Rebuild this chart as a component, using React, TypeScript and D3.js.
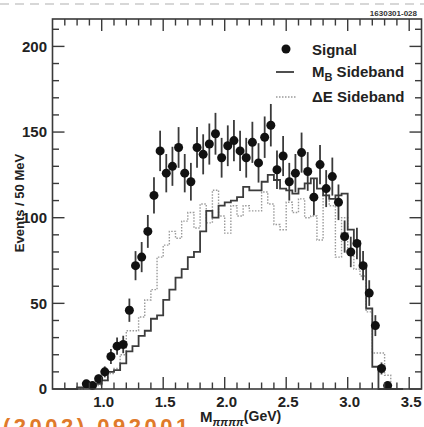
import React from "react";
import * as d3 from "d3";

// ---- data ----
const signalMass = [0.875,0.925,0.975,1.025,1.075,1.125,1.175,1.225,1.275,1.325,1.375,1.425,1.475,1.525,1.575,1.625,1.675,1.725,1.775,1.825,1.875,1.925,1.975,2.025,2.075,2.125,2.175,2.225,2.275,2.325,2.375,2.425,2.475,2.525,2.575,2.625,2.675,2.725,2.775,2.825,2.875,2.925,2.975,3.025,3.075,3.125,3.175,3.225,3.275,3.325];
const signalEvents = [3,2,6,10,19,25,26,46,72,77,92,113,139,126,130,141,126,121,141,137,143,149,135,142,145,139,135,144,132,147,154,128,136,121,126,138,127,112,131,117,124,109,89,80,85,72,56,37,12,2];
const signalErrors = [1.7,1.4,2.4,3.2,4.4,5,5.1,6.8,8.5,8.8,9.6,10.6,11.8,11.2,11.4,11.9,11.2,11,11.9,11.7,12,12.2,11.6,11.9,12,11.8,11.6,12,11.5,12.1,12.4,11.3,11.7,11,11.2,11.7,11.3,10.6,11.4,10.8,11.1,10.4,9.4,8.9,9.2,8.5,7.5,6.1,3.5,1.4];

// histogram bin lower edges (GeV), 50 MeV bins
const binEdges = [0.70,0.75,0.80,0.85,0.90,0.95,1.00,1.05,1.10,1.15,1.20,1.25,1.30,1.35,1.40,1.45,1.50,1.55,1.60,1.65,1.70,1.75,1.80,1.85,1.90,1.95,2.00,2.05,2.10,2.15,2.20,2.25,2.30,2.35,2.40,2.45,2.50,2.55,2.60,2.65,2.70,2.75,2.80,2.85,2.90,2.95,3.00,3.05,3.10,3.15,3.20,3.25,3.30,3.35,3.40];
const mbSideband = [0,0,1,1,2,3,5,10,11,15,22,25,31,34,41,43,52,58,65,70,77,80,92,104,100,107,109,110,112,118,116,116,121,125,122,117,116,114,117,120,123,117,113,111,113,114,93,86,73,47,13,0,0,0,0];
const deSideband = [0,0,0,1,1,2,5,9,12,20,34,34,42,52,58,77,84,92,88,98,103,94,108,97,116,101,91,107,101,107,104,104,115,108,96,93,109,103,111,100,101,87,113,107,77,100,78,70,66,45,21,21,8,0,0];
const binWidth = 0.05;

const xTicksMajor = [1.0, 1.5, 2.0, 2.5, 3.0, 3.5];
const xTickLabels = ["1.0", "1.5", "2.0", "2.5", "3.0", "3.5"];
const yTicksMajor = [0, 50, 100, 150, 200];
const yTickLabels = ["0", "50", "100", "150", "200"];

const FONT = "'Liberation Sans', Arial, Helvetica, sans-serif";

export default function App() {
  const W = 424, H = 427;
  const left = 52.5, right = 421.5, top = 19, bottom = 389;
  const x = d3.scaleLinear().domain([0.6, 3.6]).range([left, right]);
  const y = d3.scaleLinear().domain([0, 216]).range([bottom, top]);

  const histPath = (vals: number[]) => {
    const pts: [number, number][] = binEdges.map((e, i) => [e, vals[i]]);
    pts.push([binEdges[binEdges.length - 1] + binWidth, vals[vals.length - 1]]);
    return d3.line<[number, number]>()
      .x(d => x(d[0]))
      .y(d => y(d[1]))
      .curve(d3.curveStepAfter)(pts) || "";
  };

  const xMinor = d3.range(7, 36).map(v => v / 10);
  const yMinor = d3.range(0, 211, 10);
  const frameColor = "#3a3a3a";

  return (
    <svg width={W} height={H} style={{ position: "absolute", left: 0, top: 0, background: "#fff" }}>
      <rect x={0} y={0} width={W} height={H} fill="#fff" />
      {/* dashed line at top */}
      <line x1={0} x2={W} y1={4} y2={4} stroke="#b0b0b0" strokeWidth={1.2} strokeDasharray="9,6" />
      <text x={417} y={16} textAnchor="end" fontFamily={FONT} fontWeight="bold" fontSize={8} fill="#333">1630301-028</text>

      {/* histograms */}
      <path d={histPath(deSideband)} fill="none" stroke="#9a9a9a" strokeWidth={1.4} strokeDasharray="1.5,1.5" />
      <path d={histPath(mbSideband)} fill="none" stroke="#3c3c3c" strokeWidth={1.8} />

      {/* signal points */}
      {signalMass.map((m, i) => (
        <g key={i}>
          <line x1={x(m)} x2={x(m)} y1={y(Math.max(0, signalEvents[i] - signalErrors[i]))} y2={y(signalEvents[i] + signalErrors[i])} stroke="#3a3a3a" strokeWidth={1.8} />
          <circle cx={x(m)} cy={y(signalEvents[i])} r={4.5} fill="#111" />
        </g>
      ))}

      {/* frame */}
      <rect x={left} y={top} width={right - left} height={bottom - top} fill="none" stroke={frameColor} strokeWidth={1.6} />
      {xMinor.map((v, i) => {
        const major = Math.abs(v * 2 - Math.round(v * 2)) < 1e-6;
        const len = major ? 12 : 6.5;
        return (
          <g key={"xt" + i}>
            <line x1={x(v)} x2={x(v)} y1={bottom} y2={bottom - len} stroke={frameColor} strokeWidth={1.4} />
            <line x1={x(v)} x2={x(v)} y1={top} y2={top + len} stroke={frameColor} strokeWidth={1.4} />
          </g>
        );
      })}
      {yMinor.map((v, i) => {
        const major = v % 50 === 0;
        const len = major ? 12 : 6.5;
        return (
          <g key={"yt" + i}>
            <line x1={left} x2={left + len} y1={y(v)} y2={y(v)} stroke={frameColor} strokeWidth={1.4} />
            <line x1={right} x2={right - len} y1={y(v)} y2={y(v)} stroke={frameColor} strokeWidth={1.4} />
          </g>
        );
      })}
      {xTicksMajor.map((v, i) => (
        <text key={"xl" + i} x={x(v) + 2} y={407} textAnchor="middle" fontFamily={FONT} fontWeight="bold" fontSize={15} fill="#222">{xTickLabels[i]}</text>
      ))}
      {yTicksMajor.map((v, i) => (
        <text key={"yl" + i} x={47} y={y(v)} dy="0.36em" textAnchor="end" fontFamily={FONT} fontWeight="bold" fontSize={15} fill="#222">{yTickLabels[i]}</text>
      ))}

      {/* axis titles */}
      <text transform="translate(24,203) rotate(-90)" textAnchor="middle" fontFamily={FONT} fontWeight="bold" fontSize={13} fill="#222">Events / 50 MeV</text>
      <text x={200} y={422} fontFamily={FONT} fontWeight="bold" fontSize={15} fill="#222">
        M<tspan fontSize={11} fontStyle="italic" dy={4}>ππππ</tspan><tspan fontSize={14} dy={-5}>(GeV)</tspan>
      </text>

      {/* legend */}
      <circle cx={286} cy={49} r={4.5} fill="#111" />
      <text x={312} y={54.5} fontFamily={FONT} fontWeight="bold" fontSize={15} fill="#222">Signal</text>
      <line x1={276} x2={294} y1={72} y2={72} stroke="#3c3c3c" strokeWidth={1.8} />
      <text x={312} y={77} fontFamily={FONT} fontWeight="bold" fontSize={15} fill="#222">
        M<tspan fontSize={11} dy={4}>B</tspan><tspan dy={-4}> Sideband</tspan>
      </text>
      <line x1={276} x2={296} y1={97} y2={97} stroke="#9a9a9a" strokeWidth={1.4} strokeDasharray="1.5,1.5" />
      <text x={312} y={102} fontFamily={FONT} fontWeight="bold" fontSize={15} fill="#222">ΔE Sideband</text>

      {/* page text clipped at the bottom edge, as in the reference */}
      <text x={3} y={434} fontFamily={FONT} fontWeight="bold" fontSize={22} letterSpacing={3.5} fill="#e07a2a">(2002) 092001</text>
    </svg>
  );
}
